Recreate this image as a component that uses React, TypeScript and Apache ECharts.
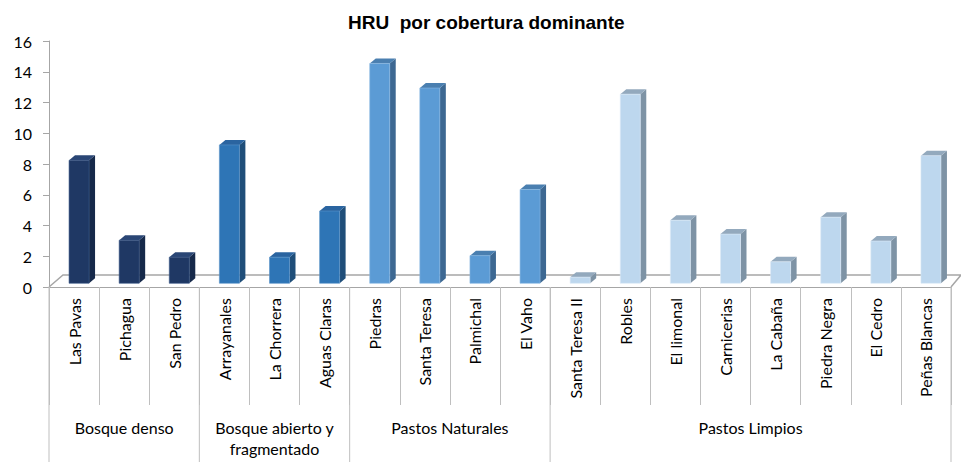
import React, { useEffect, useRef } from "react";
import * as echarts from "echarts";

const categories = [
  "Las Pavas", "Pichagua", "San Pedro",
  "Arrayanales", "La Chorrera", "Aguas Claras",
  "Piedras", "Santa Teresa", "Palmichal", "El Vaho",
  "Santa Teresa II", "Robles", "El limonal", "Carnicerias", "La Cabaña", "Piedra Negra", "El Cedro", "Peñas Blancas",
];
const values = [8.0, 2.8, 1.7, 9.0, 1.7, 4.7, 14.3, 12.7, 1.8, 6.1, 0.4, 12.3, 4.1, 3.2, 1.4, 4.3, 2.75, 8.3];
const groupNames = ["Bosque denso", "Bosque abierto y\nfragmentado", "Pastos Naturales", "Pastos Limpios"];
const groupStart = [0, 3, 6, 10];
const groupEnd = [2, 5, 9, 17];
const yTicks = [0, 2, 4, 6, 8, 10, 12, 14, 16];

const palette = [
  { front: "#1F3864", side: "#16294A", top: "#2A4675", edge: "#3A5A8C" },
  { front: "#2E75B6", side: "#1F4E79", top: "#2A64A0", edge: "#5A93CA" },
  { front: "#5B9BD5", side: "#3D6892", top: "#4A7FB0", edge: "#8AB8E3" },
  { front: "#BDD7EE", side: "#7E93A5", top: "#93A9BD", edge: "#DCEAF6" },
];

const groupOf = (i: number) => groupStart.reduce((g, s, k) => (i >= s ? k : g), 0);

export default function App() {
  const ref = useRef<HTMLDivElement>(null);
  useEffect(() => {
    document.body.style.margin = "0";
    const chart = echarts.init(ref.current!, null, { renderer: "svg" });
    const LINE = "#A6A6A6";
    const FONT = "Lato";
    const FS = 16;
    chart.setOption({
      animation: false,
      title: {
        text: "HRU  por cobertura dominante",
        left: 343,
        top: 8,
        textStyle: { fontFamily: "Liberation Sans", fontWeight: "bold", fontSize: 19, color: "#000" },
      },
      grid: { left: 49, right: 10, top: 41, height: 246 },
      xAxis: {
        type: "category",
        data: categories,
        axisLine: { show: true, lineStyle: { color: LINE, width: 1 } },
        axisTick: { show: true, interval: 0, length: 118, lineStyle: { color: "#BFBFBF" } },
        axisLabel: { rotate: 90, interval: 0, margin: 11, fontFamily: FONT, fontSize: FS, color: "#000" },
      },
      yAxis: {
        type: "value",
        min: 0,
        max: 16,
        interval: 2,
        axisLine: { show: true, lineStyle: { color: LINE } },
        axisTick: { show: true, length: 6, lineStyle: { color: LINE } },
        splitLine: { show: false },
        axisLabel: {
          margin: 17,
          fontFamily: FONT,
          fontSize: FS,
          color: "#000",
          formatter: (v: number) => (yTicks.includes(v) ? String(v) : ""),
        },
      },
      series: [
        {
          type: "custom",
          name: "floor",
          z: 1,
          data: [[0, 0]],
          renderItem: (params: any, api: any) => {
            const bw = api.size([1, 0])[0];
            const p0 = api.coord([0, 0]);
            const p1 = api.coord([categories.length - 1, 0]);
            const xl = p0[0] - bw / 2;
            const xr = p1[0] + bw / 2;
            const y = p0[1];
            return {
              type: "polyline",
              shape: { points: [[xl, y], [xl + 14, y - 12], [xr + 10, y - 12], [xr, y]] },
              style: { stroke: LINE, fill: null, lineWidth: 1.5 },
            };
          },
        },
        {
          type: "custom",
          name: "HRU",
          z: 3,
          data: values.map((v, i) => [i, v]),
          renderItem: (params: any, api: any) => {
            const i = api.value(0);
            const c = palette[groupOf(i)];
            const base = api.coord([i, 0]);
            const top = api.coord([i, api.value(1)]);
            const yb = base[1] - 3.7;
            const yt = top[1] - 3.7;
            const fl = base[0] - 5;
            const fr = fl + 20;
            const dx = 6;
            const dy = -5;
            return {
              type: "group",
              children: [
                {
                  type: "polygon",
                  shape: { points: [[fr, yb], [fr, yt], [fr + dx, yt + dy], [fr + dx, yb + dy]] },
                  style: { fill: c.side },
                },
                {
                  type: "polygon",
                  shape: { points: [[fl, yt], [fr, yt], [fr + dx, yt + dy], [fl + dx, yt + dy]] },
                  style: { fill: c.top },
                },
                {
                  type: "rect",
                  shape: { x: fl, y: yt, width: 20, height: yb - yt },
                  style: { fill: c.front, stroke: c.edge, lineWidth: 0.6 },
                },
              ],
            };
          },
        },
        {
          type: "custom",
          name: "groups",
          z: 2,
          data: groupNames.map((_, k) => [groupStart[k], 0]),
          renderItem: (params: any, api: any) => {
            const k = params.dataIndex;
            const bw = api.size([1, 0])[0];
            const a = api.coord([groupStart[k], 0]);
            const b = api.coord([groupEnd[k], 0]);
            const xs = a[0] - bw / 2;
            const xe = b[0] + bw / 2;
            const y = a[1];
            const children: any[] = [
              { type: "line", shape: { x1: xs, y1: y, x2: xs, y2: 462 }, style: { stroke: "#BFBFBF", lineWidth: 1 } },
              {
                type: "text",
                style: {
                  text: groupNames[k],
                  x: (xs + xe) / 2,
                  y: y + 130,
                  align: "center",
                  verticalAlign: "top",
                  fontFamily: FONT,
                  fontSize: FS,
                  lineHeight: 21,
                  fill: "#000",
                },
              },
            ];
            if (k === groupNames.length - 1) {
              children.push({ type: "line", shape: { x1: xe, y1: y, x2: xe, y2: 462 }, style: { stroke: "#BFBFBF", lineWidth: 1 } });
            }
            return { type: "group", children };
          },
        },
      ],
    });
    return () => chart.dispose();
  }, []);
  return <div ref={ref} style={{ width: 961, height: 462 }} />;
}
